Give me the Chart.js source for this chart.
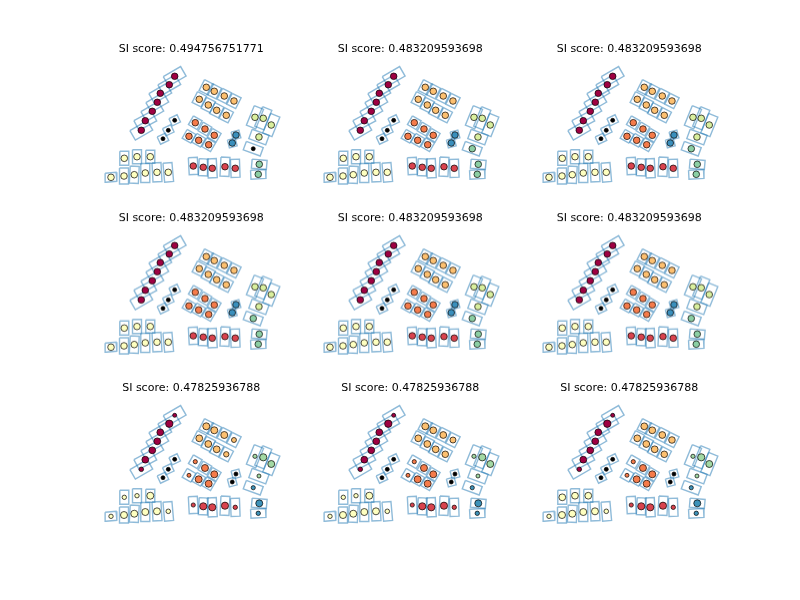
<!DOCTYPE html>
<html><head><meta charset="utf-8">
<script src="https://cdn.jsdelivr.net/npm/chart.js@4.4.1/dist/chart.umd.min.js"></script>
<style>
html,body{margin:0;padding:0;background:#fff;}
body{width:800px;height:600px;position:relative;overflow:hidden;}
.panel{position:absolute;}
</style>
</head><body>
<script>
// ---------------- DATA ----------------
const titles = [
  "SI score: 0.494756751771","SI score: 0.483209593698","SI score: 0.483209593698",
  "SI score: 0.483209593698","SI score: 0.483209593698","SI score: 0.483209593698",
  "SI score: 0.47825936788","SI score: 0.47825936788","SI score: 0.47825936788"
];
// glyph centres (layout units, shared by all panels)
const glyphX = [74.7,69.3,60.3,57.3,52.3,45.3,41.3,
  74.7,68.3,63.0,
  106.3,114.3,124.3,134.0,99.3,108.3,116.7,126.3,
  95.3,105.0,114.3,89.0,98.7,108.7,
  136.0,132.3,
  155.0,163.3,171.3,159.0,153.3,
  159.3,158.3,
  93.3,103.3,112.3,125.0,135.3,
  24.3,37.0,50.3,11.0,24.0,34.3,45.3,57.0,68.3];
const glyphY = [16.3,24.7,33.3,42.3,51.3,60.7,70.3,
  60.3,70.3,78.7,
  27.3,31.3,36.0,41.0,39.3,45.0,50.3,55.3,
  62.7,69.0,75.3,76.3,80.3,84.7,
  75.0,83.0,
  57.3,58.3,65.0,77.0,88.7,
  104.3,114.3,
  106.0,107.3,108.3,106.7,108.3,
  98.3,96.7,96.7,117.3,116.0,114.7,113.0,112.3,112.3];
// glyph boxes
const boxW = [20,20,20,20,20,20,20, 9,9,9, 10,10,10,10,10,10,10,10, 10,10,10,10,10,10, 8,8,
  10,10,10,18,18, 15,15, 9,9,9,9,9, 9,9,9,11,9,9,9,9,9];
const boxH = [11,11,11,11,11,11,11, 8,8,8, 12,12,12,12,12,12,12,12, 10,10,10,10,10,10, 8,8,
  21,21,21,10,9, 9,9, 17,17,19,19,18, 14,14,13,9,16,17,19,19,19];
const boxAngle = [-30,-30,-30,-30,-30,-28,-30, -25,-25,-25, 27,27,27,27,27,27,27,27, 30,30,30,30,30,30, -15,-15,
  22,22,22,20,20, 5,-3, -3,3,-3,3,-2, 0,0,0,-5,0,3,0,-3,-5];
// glyph categories per panel
const catPanel1 = ["m","m","m","m","m","m","m","k","k","k","lo","lo","lo","lo","lo","lo","lo","lo",
  "o","o","o","o","o","o","b","b","lg","lg","lg","lg","k","g","g","r","r","r","r","r","y","y","y","y","y","y","y","y","y"];
const catPanel2to6 = ["m","m","m","m","m","m","m","k","k","k","lo","lo","lo","lo","lo","lo","lo","lo",
  "o","o","o","o","o","o","b","b","lg","lg","lg","lg","g","g","g","r","r","r","r","r","y","y","y","y","y","y","y","y","y"];
const catRow3 = ["m","m","m","m","m","m","m","k","k","k","lo","lo","lo","lo","lo","lo","lo","lo",
  "o","o","o","o","o","o","k","k","g3","g3","g3","g3","t","t","t","r","r","r","r","r","y","y","y","y","y","y","y","y","y"];
// glyph sizes (radius) per panel
const sizePanel1 = [3.3,3.3,3.3,3.3,3.3,3.3,3.3, 2,2,2, 3.3,3.3,3.3,3.3,3.3,3.3,3.3,3.3, 3.3,3.3,3.3,3.3,3.3,3.3, 3.3,3.3,
  3.3,3.3,3.3,3.3,2, 3.3,3.3, 3.3,3.3,3.3,3.3,3.3, 3.3,3.3,3.3,3.3,3.3,3.3,3.3,3.3,3.3];
const sizePanel2to6 = [3.3,3.3,3.3,3.3,3.3,3.3,3.3, 2,2,2, 3.3,3.3,3.3,3.3,3.3,3.3,3.3,3.3, 3.3,3.3,3.3,3.3,3.3,3.3, 3.3,3.3,
  3.3,3.3,3.3,3.3,3.3, 3.3,3.3, 3.3,3.3,3.3,3.3,3.3, 3.3,3.3,3.3,3.3,3.3,3.3,3.3,3.3,3.3];
const sizePanel7 = [2.0,3.7,3.4,3.4,3.4,3.4,2.3, 2,2,2, 3.5,3.5,3.5,2.5,3.4,3.4,3.4,2.7, 2.1,3.5,3.5,2.0,3.5,3.5, 2,2,
  2.1,3.6,3.5,2.0,2.1, 3.5,2.2, 2.1,3.6,3.6,3.6,2.2, 2.2,2.2,3.5,2.2,3.5,3.5,3.5,3.5,2.3];
const sizePanel8 = [2.0,3.7,3.4,3.4,3.4,3.4,2.3, 2,2,2, 3.5,3.4,3.4,3.0,3.4,3.4,3.4,3.3, 2.1,3.5,3.5,2.0,3.5,3.5, 2,2,
  2.1,3.6,3.5,2.0,2.1, 3.5,2.2, 2.1,3.6,3.6,3.6,2.2, 2.2,2.2,3.5,2.2,3.5,3.5,3.5,3.5,2.3];
const sizePanel9 = [2.0,3.7,3.4,3.4,3.4,3.4,2.3, 2,2,2, 3.4,3.4,3.4,3.3,3.4,3.4,3.4,3.3, 2.1,3.5,3.5,2.0,3.5,3.5, 2,2,
  2.1,3.6,3.5,2.0,2.1, 3.5,2.2, 2.1,3.6,3.6,3.6,2.2, 3.4,3.4,3.4,2.2,3.5,3.5,3.5,3.5,2.3];

// ---------------- STYLE ----------------
const palette = {m:"#9e0142",k:"#000000",lo:"#fdc070",o:"#f57b4a",b:"#3a8fbc",lg:"#d9ef9e",
  g:"#8ccfa4",g3:"#a3d9a4",t:"#3d92b9",r:"#d9434e",y:"#feffc0"};
const panelCats = [catPanel1,catPanel2to6,catPanel2to6,catPanel2to6,catPanel2to6,catPanel2to6,catRow3,catRow3,catRow3];
const panelSizes = [sizePanel1,sizePanel2to6,sizePanel2to6,sizePanel2to6,sizePanel2to6,sizePanel2to6,sizePanel7,sizePanel8,sizePanel9];

const AX_W = 182.35, AX_H = 141.18, TITLE_H = 20;
const lefts = [100, 318.82, 537.65], tops = [60, 229.41, 398.82];

function boxCorners(i){
  const cx = glyphX[i], cy = glyphY[i], w = boxW[i]/2, h = boxH[i]/2, a = boxAngle[i]*Math.PI/180;
  const c = Math.cos(a), s = Math.sin(a);
  return [[-1,-1],[1,-1],[1,1],[-1,1],[-1,-1]].map(([sx,sy])=>{
    const dx = sx*w, dy = sy*h;
    return {x: cx + dx*c - dy*s, y: cy + dx*s + dy*c};
  });
}

for (let p = 0; p < 9; p++){
  const row = Math.floor(p/3), col = p%3;
  const div = document.createElement('div');
  div.className = 'panel';
  div.style.left = lefts[col] + 'px';
  div.style.top = (tops[row] - TITLE_H) + 'px';
  div.style.width = AX_W + 'px';
  div.style.height = (AX_H + TITLE_H) + 'px';
  const cv = document.createElement('canvas');
  div.appendChild(cv);
  document.body.appendChild(div);

  const cats = panelCats[p], sizes = panelSizes[p];
  const datasets = [{
    type:'scatter',
    data: glyphX.map((x,i)=>({x:x, y:glyphY[i]})),
    pointRadius: sizes,
    pointBackgroundColor: cats.map(k=>palette[k]),
    pointBorderColor: '#000',
    pointBorderWidth: 0.7,
    showLine:false,
    clip:false
  }];
  for (let i = 0; i < glyphX.length; i++){
    datasets.push({
      type:'scatter',
      data: boxCorners(i),
      showLine:true,
      borderColor:'rgba(31,119,180,0.5)',
      borderWidth:1.4,
      pointRadius:0,
      fill:false,
      tension:0,
      clip:false
    });
  }
  new Chart(cv, {
    type:'scatter',
    data:{datasets},
    options:{
      responsive:true, maintainAspectRatio:false, animation:false,
      layout:{padding:0, autoPadding:false},
      events:[],
      scales:{
        x:{type:'linear',min:0,max:AX_W,display:false},
        y:{type:'linear',min:0,max:AX_H,reverse:true,display:false}
      },
      plugins:{
        legend:{display:false},
        tooltip:{enabled:false},
        title:{display:true,text:titles[p],color:'#000',
          font:{family:'DejaVu Sans',size:11,weight:'normal',lineHeight:1.2},
          padding:{top:2.8,bottom:4}}
      }
    }
  });
}
</script>
</body></html>
